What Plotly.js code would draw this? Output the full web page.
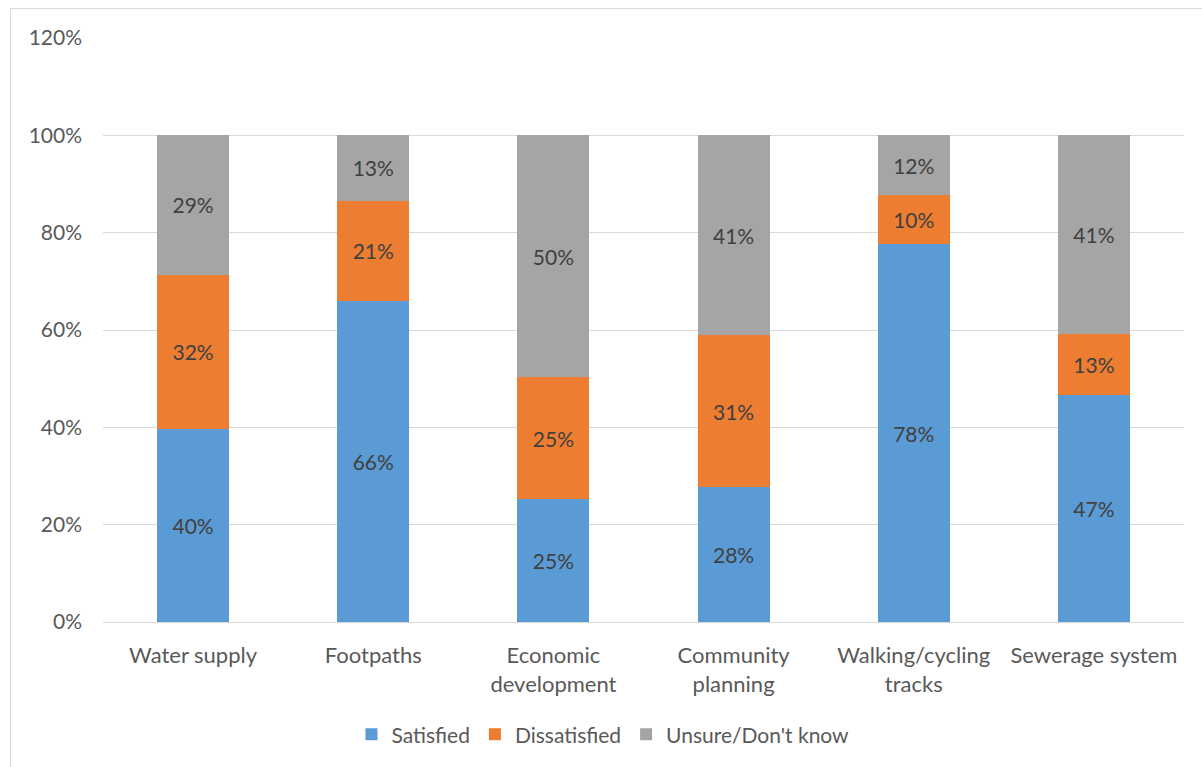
<!DOCTYPE html>
<html>
<head>
<meta charset="utf-8">
<script src="https://cdn.plot.ly/plotly-3.0.1.min.js"></script>
<style>
  html, body { margin: 0; padding: 0; background: #fff; overflow: hidden; }
  #frame { position: absolute; left: 10px; top: 8px; width: 1200px; height: 770px; border: 1px solid #d9d9d9; box-sizing: border-box; }
  #chart { position: absolute; left: 0; top: 0; width: 1202px; height: 767px; }
</style>
</head>
<body>
<div id="frame"></div>
<div id="chart"></div>
<script>
const categories = ["Water supply", "Footpaths", "Economic<br>development", "Community<br>planning", "Walking/cycling<br>tracks", "Sewerage system"];
const satisfied = [39.6, 65.9, 25.3, 27.7, 77.6, 46.6];
const dissatisfied = [31.8, 20.7, 25.0, 31.2, 10.1, 12.6];
const unsure = [28.6, 13.4, 49.7, 41.1, 12.3, 40.8];
const seriesNames = ["Satisfied", "Dissatisfied", "Unsure/Don't know"];
const yTicks = [0, 20, 40, 60, 80, 100, 120];

const colors = ["#5b9bd5", "#ed7d31", "#a5a5a5"];
const font = "Lato, 'Open Sans', sans-serif";

function mk(vals, i) {
  return {
    type: "bar",
    x: categories,
    y: vals,
    name: seriesNames[i],
    marker: { color: colors[i], line: { width: 0 } },
    texttemplate: "%{y:.0f}%",
    textposition: "inside",
    insidetextanchor: "middle",
    constraintext: "none",
    textfont: { family: font, size: 21, color: "#404040" },
    hoverinfo: "skip"
  };
}

const data = [mk(satisfied, 0), mk(dissatisfied, 1), mk(unsure, 2)];

const layout = {
  width: 1202,
  height: 767,
  barmode: "stack",
  bargap: 0.6,
  paper_bgcolor: "rgba(0,0,0,0)",
  plot_bgcolor: "rgba(0,0,0,0)",
  margin: { l: 103, r: 18, t: 38, b: 145 },
  font: { family: font, size: 21, color: "#595959" },
  xaxis: {
    type: "category",
    tickfont: { family: font, size: 22, color: "#595959" },
    ticklabelstandoff: 14,
    showgrid: false,
    showline: true,
    linecolor: "#d9d9d9",
    linewidth: 1,
    ticks: "",
    automargin: false
  },
  yaxis: {
    range: [0, 120],
    tickvals: yTicks,
    ticktext: yTicks.map(v => v + "%"),
    tickfont: { family: font, size: 21, color: "#595959" },
    ticklabelstandoff: 20,
    showgrid: true,
    gridcolor: "#d9d9d9",
    gridwidth: 1,
    zeroline: false,
    showline: false,
    ticks: "",
    ticklen: 0,
    automargin: false
  },
  showlegend: true,
  legend: {
    orientation: "h",
    x: 0.4625,
    xanchor: "center",
    y: -0.193,
    yanchor: "middle",
    font: { family: font, size: 21, color: "#595959" },
    traceorder: "normal",
    itemwidth: 30
  }
};

Plotly.newPlot("chart", data, layout, { staticPlot: true, displayModeBar: false });
</script>
</body>
</html>
